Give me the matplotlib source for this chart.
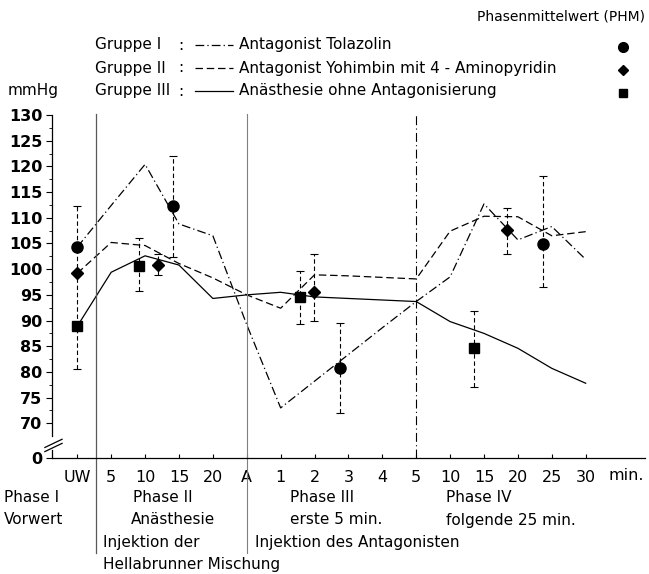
import numpy as np
from matplotlib import pyplot as plt
from matplotlib.lines import Line2D


W, H = 649, 574

# x axis categories (minutes within the phases)
x_labels = ['UW', '5', '10', '15', '20', 'A', '1', '2', '3', '4', '5',
            '10', '15', '20', '25', '30']

# mean arterial pressure curves, mmHg
tolazolin = [104.3, 112.4, 120.4, 108.8, 106.5, 89.2, 73.0, 78.2,
             83.4, 88.6, 93.7, 98.5, 112.7, 105.7, 108.3, 101.9]
yohimbin = [99.2, 105.2, 104.6, 101.1, 98.3, 95.0, 92.4, 98.9,
            98.7, 98.4, 98.1, 107.4, 110.3, 110.2, 106.5, 107.3]
ohne = [88.9, 99.4, 102.6, 100.8, 94.3, 95.0, 95.5, 94.6,
        94.3, 94.0, 93.7, 89.8, 87.5, 84.6, 80.7, 77.8]

# phase means (PHM) with error ranges
phm_i_x = [0, 2.81, 7.75, 13.73]
phm_i = [104.3, 112.3, 80.7, 104.9]
phm_i_lo = [0, 10.0, 8.6, 8.3]
phm_i_hi = [8.0, 9.8, 8.9, 13.2]

phm_ii_x = [0, 2.39, 6.98, 12.68]
phm_ii = [99.2, 100.9, 95.6, 107.7]
phm_ii_lo = [0, 2.0, 5.6, 4.8]
phm_ii_hi = [0, 2.0, 7.3, 4.3]

phm_iii_x = [0, 1.83, 6.57, 11.71]
phm_iii = [88.9, 100.7, 94.6, 84.6]
phm_iii_lo = [8.3, 4.9, 5.3, 7.6]
phm_iii_hi = [15.4, 5.3, 5.0, 7.3]

y_ticks = [70, 75, 80, 85, 90, 95, 100, 105, 110, 115, 120, 125, 130]
Y_ZERO = 63.25  # where the broken axis puts "0"

DASHDOT = (0, (7, 2.5, 1, 2.5))
DASHED = (0, (6, 3))


def fx(x):
    return x / W


def fy(y):
    return 1 - y / H


plt.rcParams['font.family'] = ['DejaVu Sans']
fig = plt.figure(figsize=(W / 100, H / 100), dpi=100)
ax = fig.add_axes([fx(52), fy(458), (645 - 52) / W, (458 - 114) / H])

x = np.arange(len(x_labels))
ax.plot(x, tolazolin, color='k', lw=0.9, ls=DASHDOT)
ax.plot(x, yohimbin, color='k', lw=0.9, ls=DASHED)
ax.plot(x, ohne, color='k', lw=0.9)

for px_, py_, lo, hi, mk, ms in [
        (phm_i_x, phm_i, phm_i_lo, phm_i_hi, 'o', 8),
        (phm_ii_x, phm_ii, phm_ii_lo, phm_ii_hi, 'D', 6.5),
        (phm_iii_x, phm_iii, phm_iii_lo, phm_iii_hi, 's', 7)]:
    eb = ax.errorbar(px_, py_, yerr=[lo, hi], fmt='none', ecolor='k',
                     elinewidth=0.8, capsize=3, capthick=0.8)
    eb[2][0].set_linestyle((0, (4, 2.5)))
    ax.plot(px_, py_, ls='none', marker=mk, ms=ms, color='k', zorder=5)

ax.set_xlim(-0.746, 16.75)
ax.set_ylim(Y_ZERO, 130.2)

# phase separators, extending below the axis
xt = ax.get_xaxis_transform()
ax.plot([0.56, 0.56], [-0.276, 1.0], transform=xt, clip_on=False,
        color='0.35', lw=0.9)
ax.plot([5, 5], [-0.276, 1.0], transform=xt, clip_on=False,
        color='0.5', lw=0.8)
ax.plot([10, 10], [0, 1.0], transform=xt, clip_on=False,
        color='k', lw=0.8, ls=(0, (8, 3, 1, 3)))

# broken left axis
for s in ['top', 'right', 'left']:
    ax.spines[s].set_visible(False)
ax.spines['bottom'].set_linewidth(0.9)
yt = ax.get_yaxis_transform()
ax.plot([0, 0], [67.6, 130], transform=yt, clip_on=False, color='k', lw=0.9)
ax.plot([0, 0], [Y_ZERO, 64.9], transform=yt, clip_on=False, color='k', lw=0.9)
for off in [0, 0.8]:
    ax.plot([-0.012, 0.017], [65.3 - off, 66.9 - off], transform=yt,
            clip_on=False, color='k', lw=0.9)

ax.set_yticks([Y_ZERO] + y_ticks)
ax.set_yticklabels(['0'] + [str(v) for v in y_ticks])
ax.set_yticks(np.arange(72.5, 130, 5), minor=True)
ax.tick_params(axis='y', which='major', direction='out', length=4,
               width=0.8, pad=3, labelsize=11.5)
ax.tick_params(axis='y', which='minor', direction='out', length=2, width=0.6)
for lab in ax.get_yticklabels():
    lab.set_fontweight('bold')

ax.set_xticks(x)
ax.set_xticklabels(x_labels)
ax.tick_params(axis='x', direction='in', length=3, width=0.8, pad=9,
               labelsize=11.5)

fig.text(fx(609), fy(475), 'min.', fontsize=11.5, va='center')

# legend block
fig.text(fx(645), fy(17), 'Phasenmittelwert (PHM)', fontsize=10,
         ha='right', va='center')
fig.text(fx(8), fy(91), 'mmHg', fontsize=11, va='center')
legend_rows = [
    ('Gruppe I', 45, DASHDOT, 'Antagonist Tolazolin', 'o', 7),
    ('Gruppe II', 68, DASHED, 'Antagonist Yohimbin mit 4 - Aminopyridin', 'D', 5.5),
    ('Gruppe III', 91, '-', 'Anästhesie ohne Antagonisierung', 's', 5.5),
]
for name, yy, ls, desc, mk, ms in legend_rows:
    fig.text(fx(95), fy(yy), name, fontsize=11, va='center')
    fig.text(fx(178), fy(yy), ':', fontsize=11, va='center')
    fig.add_artist(Line2D([fx(195), fx(233)], [fy(yy), fy(yy)],
                          color='k', lw=0.9, ls=ls))
    fig.text(fx(239), fy(yy), desc, fontsize=11, va='center')
    fig.add_artist(Line2D([fx(623)], [fy(yy + 2)], marker=mk, ms=ms,
                          color='k', ls='none'))

# phase descriptions below the axis
phase_texts = [
    (4, 497, 'Phase I'), (4, 520, 'Vorwert'),
    (133, 497, 'Phase II'), (131, 520, 'Anästhesie'),
    (103, 542, 'Injektion der'), (103, 565, 'Hellabrunner Mischung'),
    (290, 497, 'Phase III'), (290, 520, 'erste 5 min.'),
    (255, 542, 'Injektion des Antagonisten'),
    (446, 497, 'Phase IV'), (446, 520, 'folgende 25 min.'),
]
for tx, ty, t in phase_texts:
    fig.text(fx(tx), fy(ty), t, fontsize=11, va='center')

fig.savefig('out.png', dpi=100)
